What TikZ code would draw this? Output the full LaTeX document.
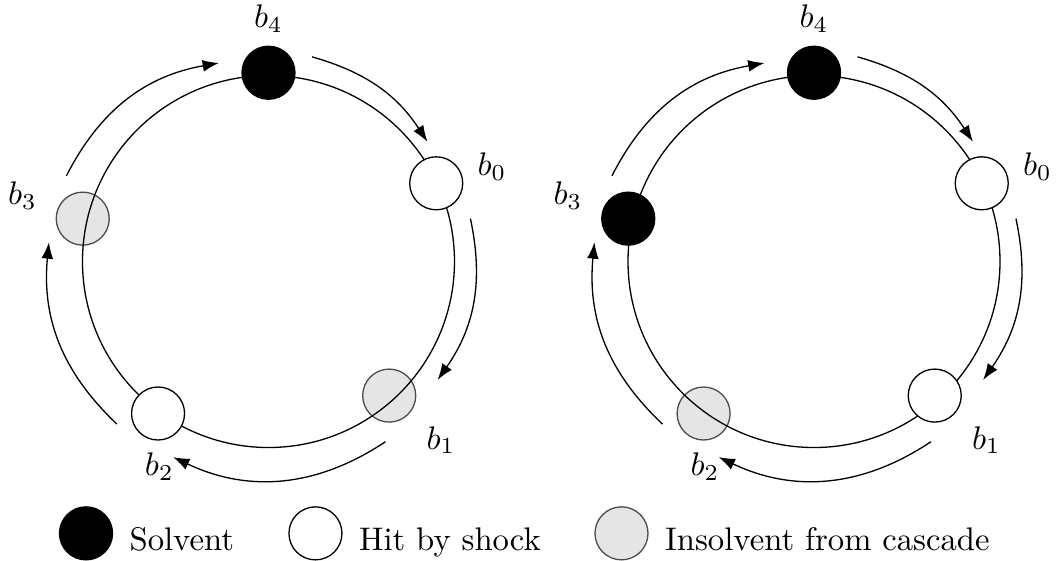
\documentclass[tikz,border=0pt]{standalone}
\usepackage{amsmath}
\usetikzlibrary{arrows.meta,positioning}

\tikzset{
  bank/.style={circle, draw, minimum size=0.57cm, inner sep=0pt},
  solvent/.style={bank, fill=black},
  shocked/.style={bank, fill=white},
  cascade/.style={bank, fill=black!10, draw=black!70},
  keytext/.style={anchor=base west, yshift=-5.1pt},
}

\begin{document}
\begin{tikzpicture}[>={Latex[length=5pt,width=3.6pt]}]
    \useasboundingbox (-2.887,-3.220) rectangle (8.522,2.812);

    % Ring centres
    \coordinate (L) at (0,0);
    \coordinate (R) at (5.866,0);

    % Banks that fail in the cascade go under the ring
    \node[cascade] (L1) at ([shift={(-48:1.94)}]L) {};
    \node[cascade] (L3) at ([shift={(167:2.05)}]L) {};
    \node[cascade] (R2) at ([shift={(-126:2.02)}]R) {};

    % Rings, flow arrows and labels
    \foreach \p in {L,R} {
        \draw (\p) circle (2);
        \foreach \s/\a/\ra/\t/\b/\rb/\h in {4/78/2.25/0/37/2.14/20.5, 0/12/2.22/1/-35/2.22/23.5,
                                           1/-57/2.31/2/-116/2.34/29.5, 2/-133/2.39/3/-185/2.37/26,
                                           3/157/2.36/4/104/2.2/26.5} {
            \path (\p) ++(\a:\ra) coordinate (\p-out\s);
            \path (\p) ++(\b:\rb) coordinate (\p-in\t);
            \draw[->] (\p-out\s) to[bend left=\h] (\p-in\t);
        }
        \foreach \i/\la/\lr in {4/90/2.61, 0/23/2.61, 1/-46/2.67, 2/-118/2.5, 3/165/2.74}
            \node (\p-lab\i) at ([shift={(\la:\lr)}]\p) {$b_\i$};
    }

    % Remaining banks sit on top of the ring
    \node[solvent] (L4) at ([shift={(90:2.03)}]L) {};
    \node[shocked] (L0) at ([shift={(25:1.99)}]L) {};
    \node[shocked] (L2) at ([shift={(-126:2.02)}]L) {};
    \node[solvent] (R4) at ([shift={(90:2.03)}]R) {};
    \node[shocked] (R0) at ([shift={(25:1.99)}]R) {};
    \node[shocked] (R1) at ([shift={(-48:1.94)}]R) {};
    \node[solvent] (R3) at ([shift={(167:2.05)}]R) {};

    % Legend
    \node[solvent] (keyS) at (-1.962,-2.923) {};
    \node[right=1.5pt of keyS, keytext] (txtS) {Solvent};
    \node[shocked] (keyH) at (0.505,-2.923) {};
    \node[right=1.5pt of keyH, keytext] (txtH) {Hit by shock};
    \node[cascade] (keyC) at (3.796,-2.923) {};
    \node[right=1.5pt of keyC, keytext] (txtC) {Insolvent from cascade};
\end{tikzpicture}
\end{document}
